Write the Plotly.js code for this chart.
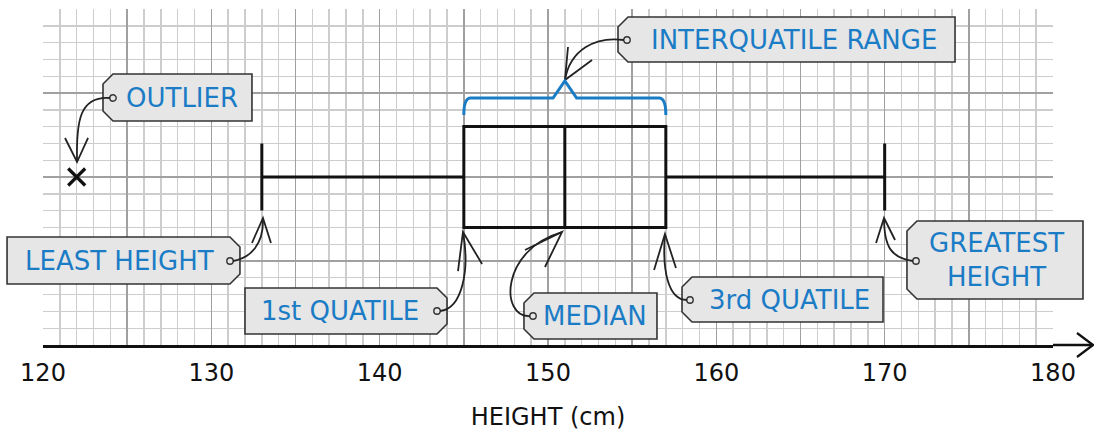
<!DOCTYPE html>
<html>
<head>
<meta charset="utf-8">
<script src="https://cdn.plot.ly/plotly-3.0.1.min.js"></script>
<style>html,body{margin:0;padding:0;background:#fff;}#chart{width:1094px;height:434px;}</style>
</head>
<body>
<div id="chart"></div>
<script>
// ---- data ----
const boxPosition = [10];
const q1Values = [145];
const medianValues = [151];
const q3Values = [157];
const lowerFence = [133];
const upperFence = [170];
const outlierX = [122];
const outlierY = [10];
const gridTickVals = [120, 125, 130, 135, 140, 145, 150, 155, 160, 165, 170, 175, 180];
const gridTickText = ['120', '', '130', '', '140', '', '150', '', '160', '', '170', '', '180'];
const xTitle = 'HEIGHT (cm)';
const tagTexts = ['OUTLIER', 'LEAST HEIGHT', '1st QUATILE', 'MEDIAN', '3rd QUATILE', 'GREATEST<br>HEIGHT', 'INTERQUATILE RANGE'];

// ---- layout geometry ----
const L = 43, T = 9, W = 1010, H = 336;
const XR = [120, 180], YR = [0, 20];
const px2x = p => XR[0] + (p - L) / W * (XR[1] - XR[0]);
const py2y = p => YR[1] - (p - T) / H * (YR[1] - YR[0]);
const px2p = p => (p - L) / W;
const py2p = p => 1 - (p - T) / H;

const BLUE = '#1b7cc6', TAGFILL = '#e6e6e6', INK = '#222';
const FONT = 'DejaVu Sans, sans-serif';

// tag callouts in pixel space
const tags = [
  {b:[103,252,74,121], side:'left', hole:[113,98], tc:[182,98],
   curve:[[80,96],[76,120],[77,162]], arms:[[65,138],[77,162],[88,138]]},
  {b:[7,240,237,284], side:'right', hole:[230,261], tc:[119,261],
   curve:[[250,258],[264,245],[263,218]], arms:[[252,243],[263,218],[271,243]]},
  {b:[245,447,288,334], side:'right', hole:[437,311], tc:[340,311],
   curve:[[462,309],[470,270],[463,232]], arms:[[458,271],[463,232],[482,264]]},
  {b:[524,657,293,339], side:'left', hole:[533,316], tc:[595,316],
   curve:[[500,318],[500,250],[562,232]], arms:[[525,250],[562,232],[545,267]]},
  {b:[682,883,277,322], side:'left', hole:[690,300], tc:[789,300],
   curve:[[668,300],[662,270],[665,234]], arms:[[654,270],[665,234],[676,268]]},
  {b:[907,1083,221,299], side:'left', hole:[916,261], tc:[996,260],
   curve:[[892,258],[884,248],[884,218]], arms:[[876,243],[884,218],[895,240]]},
  {b:[618,955,17,62], side:'left', hole:[627,40], tc:[794,40],
   curve:[[595,36],[570,50],[565,80]], arms:[[568,47],[565,80],[592,60]]}
];

const shapes = [];
const annotations = [];
const P = (x, y) => px2p(x).toFixed(4) + ',' + py2p(y).toFixed(4);

tags.forEach((t, i) => {
  const [x0, x1, y0, y1] = t.b;
  const c = 10;
  let path;
  if (t.side === 'left') {
    path = 'M' + P(x0 + c, y0) + ' L' + P(x1, y0) + ' L' + P(x1, y1) + ' L' + P(x0 + c, y1) +
           ' L' + P(x0, y1 - c) + ' L' + P(x0, y0 + c) + ' Z';
  } else {
    path = 'M' + P(x0, y0) + ' L' + P(x1 - c, y0) + ' L' + P(x1, y0 + c) + ' L' + P(x1, y1 - c) +
           ' L' + P(x1 - c, y1) + ' L' + P(x0, y1) + ' Z';
  }
  shapes.push({type:'path', xref:'paper', yref:'paper', path:path, fillcolor:TAGFILL,
               line:{color:'#333', width:1.6}, layer:'above'});
  const r = 3.2;
  shapes.push({type:'circle', xref:'paper', yref:'paper',
               x0:px2p(t.hole[0]-r), x1:px2p(t.hole[0]+r), y0:py2p(t.hole[1]+r), y1:py2p(t.hole[1]-r),
               fillcolor:TAGFILL, line:{color:'#333', width:1.4}, layer:'above'});
  const cv = t.curve;
  shapes.push({type:'path', xref:'paper', yref:'paper',
               path:'M' + P(t.hole[0] - (t.side==='left'?3:-3), t.hole[1]) + ' C' + P(cv[0][0],cv[0][1]) + ' ' + P(cv[1][0],cv[1][1]) + ' ' + P(cv[2][0],cv[2][1]),
               line:{color:INK, width:1.8}, layer:'above'});
  const a = t.arms;
  shapes.push({type:'path', xref:'paper', yref:'paper',
               path:'M' + P(a[0][0],a[0][1]) + ' L' + P(a[1][0],a[1][1]) + ' L' + P(a[2][0],a[2][1]),
               line:{color:INK, width:1.8}, layer:'above'});
  annotations.push({xref:'paper', yref:'paper', x:px2p(t.tc[0]), y:py2p(t.tc[1]), text:tagTexts[i],
                    showarrow:false, font:{family:FONT, size:26, color:BLUE},
                    align:'center', xanchor:'center', yanchor:'middle'});
});

// blue brace over the box, spanning Q1..Q3
const bq1 = q1Values[0], bq3 = q3Values[0], bmed = medianValues[0];
const braceBottom = py2y(115), braceMid = py2y(98), braceTop = py2y(81);
const dx = 0.4;
shapes.push({type:'path', xref:'x', yref:'y', layer:'above',
  path:'M' + bq1 + ',' + braceBottom + ' Q' + bq1 + ',' + braceMid + ' ' + (bq1+dx) + ',' + braceMid +
       ' L' + (bmed - 0.7) + ',' + braceMid + ' L' + bmed + ',' + braceTop + ' L' + (bmed + 0.7) + ',' + braceMid +
       ' L' + (bq3 - dx) + ',' + braceMid + ' Q' + bq3 + ',' + braceMid + ' ' + bq3 + ',' + braceBottom,
  line:{color:BLUE, width:3}});

// axis arrow extension on the right
const xEnd = (1093 - L) / W;
const armBack = (1077 - L) / W;
shapes.push({type:'line', xref:'paper', yref:'paper', x0:1, x1:xEnd, y0:0, y1:0, line:{color:'#111', width:2.5}});
shapes.push({type:'path', xref:'paper', yref:'paper',
  path:'M' + armBack + ',' + (12/H) + ' L' + xEnd + ',0 L' + armBack + ',' + (-12/H),
  line:{color:'#111', width:2.2}});

const traces = [
  {type:'box', orientation:'h', y:boxPosition, q1:q1Values, median:medianValues, q3:q3Values,
   lowerfence:lowerFence, upperfence:upperFence, width:6, whiskerwidth:0.667,
   fillcolor:'rgba(0,0,0,0)', line:{color:'#111', width:3}, boxpoints:false,
   hoverinfo:'skip', showlegend:false},
  {type:'scatter', mode:'markers', x:outlierX, y:outlierY,
   marker:{symbol:'x-thin', size:17, line:{color:'#111', width:3.2}, color:'#111'},
   hoverinfo:'skip', showlegend:false}
];

const layout = {
  width:1094, height:434,
  margin:{l:L, r:1094 - L - W, t:T, b:434 - T - H},
  paper_bgcolor:'#fff', plot_bgcolor:'#fff',
  showlegend:false,
  xaxis:{range:XR, tickmode:'array', tickvals:gridTickVals, ticktext:gridTickText,
         showgrid:true, gridcolor:'#a0a0a0', gridwidth:1.6,
         minor:{dtick:1, showgrid:true, gridcolor:'#cdcdcd', gridwidth:1.4, ticks:''},
         showline:true, linecolor:'#111', linewidth:2.5, zeroline:false, ticks:'',
         ticklabelstandoff:5,
         tickfont:{family:FONT, size:24, color:'#111'},
         title:{text:xTitle, font:{family:FONT, size:24, color:'#111'}, standoff:22},
         fixedrange:true},
  yaxis:{range:YR, type:'linear', dtick:5, tick0:0, showgrid:true, gridcolor:'#a0a0a0', gridwidth:1.6,
         minor:{dtick:1, showgrid:true, gridcolor:'#cdcdcd', gridwidth:1.4, ticks:''},
         showticklabels:false, zeroline:false, showline:false, ticks:'', fixedrange:true},
  shapes:shapes,
  annotations:annotations
};

Plotly.newPlot('chart', traces, layout, {displayModeBar:false, staticPlot:true});
</script>
</body>
</html>
